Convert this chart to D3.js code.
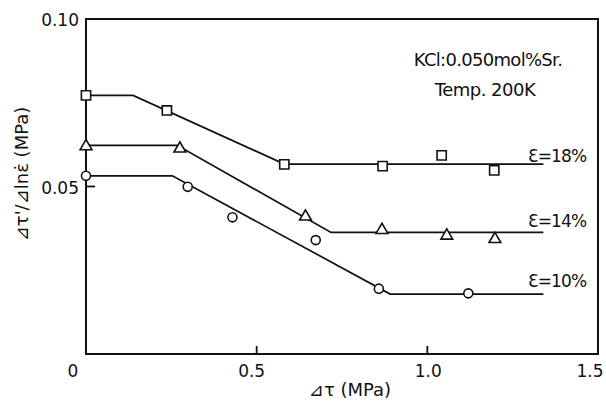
<!DOCTYPE html>
<html><head><meta charset="utf-8">
<script src="https://cdn.jsdelivr.net/npm/d3@7"></script>
<style>body{margin:0;background:#fff}svg{display:block}text{font-family:"DejaVu Sans",sans-serif;fill:#111}</style>
</head><body>
<script>
const xTicks = [0, 0.5, 1.0, 1.5];
const xTickLabels = ["0", "0.5", "1.0", "1.5"];
const yTicks = [0.05, 0.10];
const yTickLabels = ["0.05", "0.10"];

const seriesNames = ["Ɛ=18%", "Ɛ=14%", "Ɛ=10%"];
const seriesShapes = ["square", "triangle", "circle"];

const sqX = [0, 0.237, 0.581, 0.869, 1.042, 1.196];
const sqY = [0.0772, 0.0727, 0.0566, 0.0561, 0.0593, 0.0548];
const triX = [0, 0.275, 0.643, 0.867, 1.057, 1.198];
const triY = [0.0620, 0.0613, 0.0410, 0.0370, 0.0353, 0.0343];
const cirX = [0, 0.298, 0.429, 0.673, 0.858, 1.120];
const cirY = [0.0532, 0.0499, 0.0408, 0.0340, 0.0195, 0.0181];

const sqLineX = [0, 0.138, 0.581, 1.34];
const sqLineY = [0.0772, 0.0772, 0.0567, 0.0567];
const triLineX = [0, 0.267, 0.718, 1.34];
const triLineY = [0.0623, 0.0623, 0.0363, 0.0363];
const cirLineX = [0, 0.253, 0.891, 1.34];
const cirLineY = [0.0532, 0.0532, 0.0179, 0.0179];

const W = 606, H = 402;
const svg = d3.select("body").append("svg").attr("width", W).attr("height", H);
const x = d3.scaleLinear().domain([0, 1.5]).range([86, 598]);
const y = d3.scaleLinear().domain([0, 0.10]).range([354, 19]);

// frame
svg.append("rect").attr("x", x(0)).attr("y", y(0.10)).attr("width", x(1.5) - x(0)).attr("height", y(0) - y(0.10))
  .attr("fill", "none").attr("stroke", "#111").attr("stroke-width", 2);

// inner ticks
svg.selectAll(".xt").data(xTicks.filter(d => d > 0 && d < 1.5)).enter().append("line")
  .attr("x1", d => x(d)).attr("x2", d => x(d)).attr("y1", y(0)).attr("y2", y(0) - 8)
  .attr("stroke", "#111").attr("stroke-width", 1.8);
svg.selectAll(".yt").data(yTicks.filter(d => d < 0.10)).enter().append("line")
  .attr("x1", x(0)).attr("x2", x(0) + 9).attr("y1", d => y(d)).attr("y2", d => y(d))
  .attr("stroke", "#111").attr("stroke-width", 1.8);

// tick labels
const xOff = [-13, -5, 1, -8];
svg.selectAll(".xl").data(xTicks).enter().append("text")
  .attr("x", (d, i) => x(d) + xOff[i]).attr("y", 377).attr("text-anchor", "middle")
  .attr("font-size", 17).text((d, i) => xTickLabels[i]);
svg.selectAll(".yl").data(yTicks).enter().append("text")
  .attr("x", 79).attr("y", d => y(d) + 7).attr("text-anchor", "end")
  .attr("font-size", 17).text((d, i) => yTickLabels[i]);

// axis titles
svg.append("text").attr("x", 350).attr("y", 396).attr("text-anchor", "middle").attr("font-size", 18)
  .text("⊿τ  (MPa)");
svg.append("text").attr("transform", "translate(28,174) rotate(-90)").attr("text-anchor", "middle")
  .attr("font-size", 18).text("⊿τ'/⊿lnε̇ (MPa)");

// annotations
svg.append("text").attr("x", 488).attr("y", 66).attr("text-anchor", "middle").attr("font-size", 18)
  .attr("letter-spacing", -0.7).text("KCl:0.050mol%Sr.");
svg.append("text").attr("x", 485).attr("y", 96).attr("text-anchor", "middle").attr("font-size", 18)
  .attr("letter-spacing", -0.5).text("Temp. 200K");

const lines = [[sqLineX, sqLineY], [triLineX, triLineY], [cirLineX, cirLineY]];
const pts = [[sqX, sqY], [triX, triY], [cirX, cirY]];
const line = d3.line().x(d => x(d[0])).y(d => y(d[1]));

lines.forEach(([lx, ly]) => {
  svg.append("path").datum(lx.map((v, i) => [v, ly[i]])).attr("d", line)
    .attr("fill", "none").attr("stroke", "#111").attr("stroke-width", 1.7);
});

const symMap = { square: d3.symbolSquare, triangle: d3.symbolTriangle, circle: d3.symbolCircle };
const symSize = { square: 85, triangle: 60, circle: 64 };
pts.forEach(([px, py], k) => {
  const shape = seriesShapes[k];
  const sym = d3.symbol().type(symMap[shape]).size(symSize[shape]);
  svg.selectAll(null).data(px.map((v, i) => [v, py[i]])).enter().append("path")
    .attr("d", sym).attr("transform", d => `translate(${x(d[0])},${y(d[1])})`)
    .attr("fill", "#fff").attr("stroke", "#111").attr("stroke-width", 1.6);
});

// series labels
const labelY = [0.0572, 0.0380, 0.0200];
seriesNames.forEach((n, k) => {
  svg.append("text").attr("x", 528).attr("y", y(labelY[k])).attr("font-size", 17)
    .attr("letter-spacing", -0.8).text(n);
});
</script>
</body></html>
